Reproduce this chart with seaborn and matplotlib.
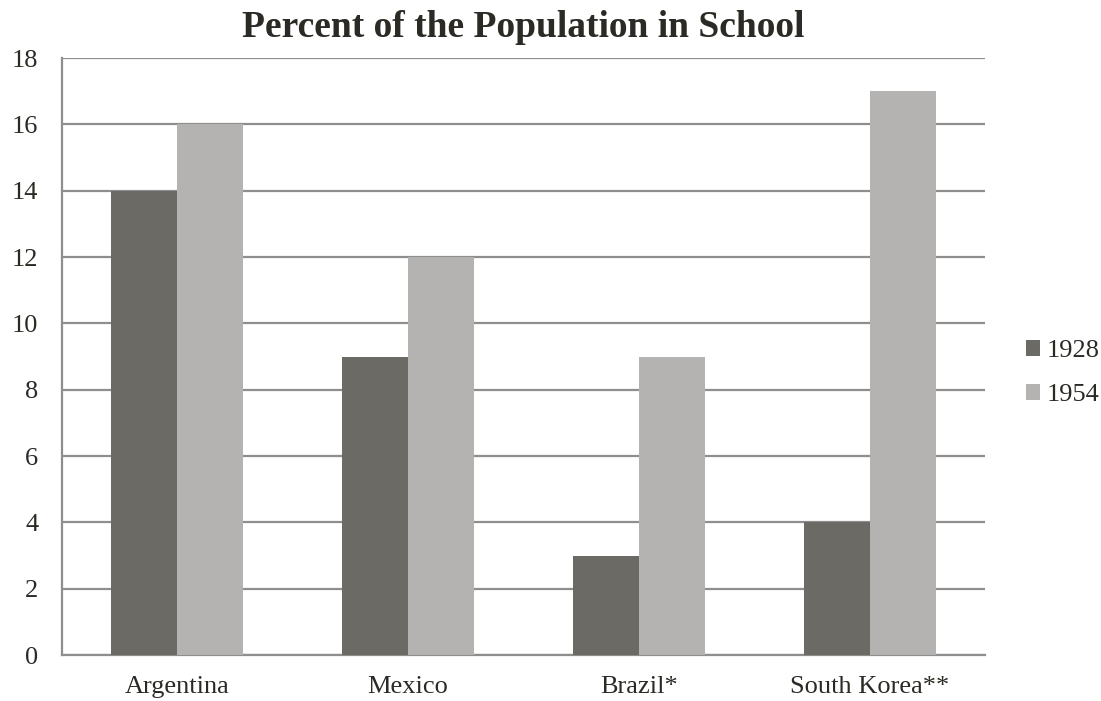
import pandas as pd
import matplotlib.pyplot as plt
import seaborn as sns

countries = ['Argentina', 'Mexico', 'Brazil*', 'South Korea**']
pct_1928 = [14, 9, 3, 4]
pct_1954 = [16, 12, 9, 17]
years = ['1928', '1954']

df = pd.DataFrame({
    'country': countries * 2,
    'year': [years[0]] * 4 + [years[1]] * 4,
    'pct': pct_1928 + pct_1954,
})

sns.set_style('white')
plt.rcParams['font.family'] = ['Liberation Serif', 'DejaVu Serif']

fig = plt.figure(figsize=(11.01, 7.01), dpi=100)
ax = fig.add_axes([0.0563, 0.0656, 0.8383, 0.8514])

sns.barplot(data=df, x='country', y='pct', hue='year', order=countries,
            palette=['#6b6a65', '#b4b3b1'], width=0.572, saturation=1,
            linewidth=0, ax=ax, zorder=3)

ax.set_ylim(0, 18)
ax.set_yticks(range(0, 19, 2))
ax.grid(axis='y', color='#8e8e8e', linewidth=1.6, zorder=0)
ax.set_axisbelow(True)
for s in ['top', 'right']:
    ax.spines[s].set_visible(False)
for s in ['left', 'bottom']:
    ax.spines[s].set_color('#8e8e8e')
    ax.spines[s].set_linewidth(1.6)
ax.tick_params(length=0, labelsize=19, colors='#2b2a24')
ax.tick_params(axis='y', pad=17)
ax.tick_params(axis='x', pad=15)
ax.set_xlabel('')
ax.set_ylabel('')
ax.set_title('Percent of the Population in School', fontsize=27,
             fontweight='bold', color='#2b2a24', pad=15)

leg = ax.legend(loc='center left', bbox_to_anchor=(1.0187, 0.472), frameon=False,
                fontsize=19, handlelength=0.53, handleheight=0.53,
                handletextpad=0.27, labelspacing=0.82)
for t in leg.get_texts():
    t.set_color('#2b2a24')

fig.savefig('out.png', dpi=100)
